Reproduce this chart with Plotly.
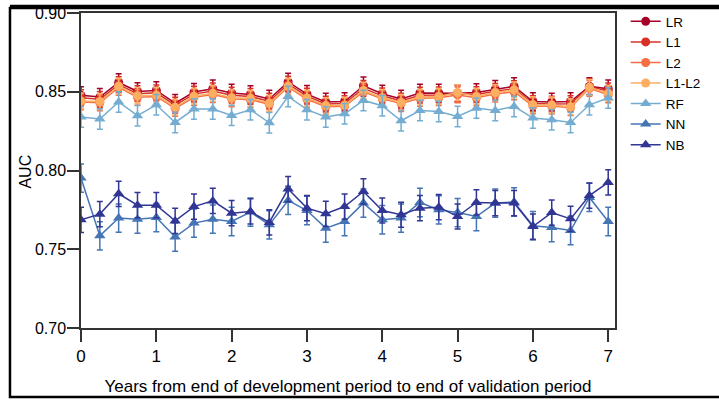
import plotly.graph_objects as go

years = [i * 0.25 for i in range(29)]

LR = [0.8477, 0.8466, 0.8559, 0.8502, 0.8508, 0.8428, 0.8498, 0.8519, 0.8492, 0.8483,
      0.8454, 0.8562, 0.8485, 0.8435, 0.8438, 0.8538, 0.8487, 0.8454, 0.8492, 0.8492,
      0.8490, 0.8496, 0.8517, 0.8534, 0.8438, 0.8435, 0.8438, 0.8534, 0.8519]
L1 = [0.8462, 0.8452, 0.8545, 0.8488, 0.8493, 0.8415, 0.8485, 0.8505, 0.8478, 0.8470,
      0.8440, 0.8548, 0.8472, 0.8422, 0.8425, 0.8522, 0.8474, 0.8441, 0.8478, 0.8480,
      0.8488, 0.8482, 0.8503, 0.8520, 0.8425, 0.8422, 0.8424, 0.8532, 0.8505]
L2 = [0.8435, 0.8430, 0.8528, 0.8465, 0.8470, 0.8395, 0.8465, 0.8482, 0.8455, 0.8450,
      0.8420, 0.8530, 0.8452, 0.8405, 0.8408, 0.8500, 0.8455, 0.8425, 0.8458, 0.8462,
      0.8480, 0.8462, 0.8485, 0.8500, 0.8410, 0.8408, 0.8400, 0.8522, 0.8480]
L1L2 = [0.8442, 0.8438, 0.8535, 0.8475, 0.8478, 0.8402, 0.8472, 0.8490, 0.8462, 0.8458,
        0.8428, 0.8536, 0.8460, 0.8412, 0.8415, 0.8508, 0.8462, 0.8432, 0.8466, 0.8470,
        0.8495, 0.8470, 0.8495, 0.8512, 0.8418, 0.8416, 0.8405, 0.8528, 0.8490]
RF = [0.8340, 0.8327, 0.8435, 0.8348, 0.8417, 0.8305, 0.8390, 0.8390, 0.8350, 0.8386,
      0.8303, 0.8470, 0.8386, 0.8340, 0.8360, 0.8445, 0.8411, 0.8316, 0.8381, 0.8375,
      0.8343, 0.8396, 0.8381, 0.8407, 0.8333, 0.8322, 0.8305, 0.8417, 0.8460]
NN = [0.7952, 0.7585, 0.7698, 0.7691, 0.7701, 0.7577, 0.7666, 0.7691, 0.7676, 0.7736,
      0.7655, 0.7810, 0.7746, 0.7634, 0.7676, 0.7793, 0.7687, 0.7698, 0.7797, 0.7750,
      0.7733, 0.7708, 0.7793, 0.7800, 0.7649, 0.7638, 0.7619, 0.7829, 0.7676]
NB = [0.7687, 0.7723, 0.7852, 0.7780, 0.7780, 0.7680, 0.7771, 0.7807, 0.7729, 0.7740,
      0.7670, 0.7882, 0.7761, 0.7725, 0.7771, 0.7867, 0.7746, 0.7719, 0.7761, 0.7767,
      0.7708, 0.7797, 0.7793, 0.7793, 0.7644, 0.7733, 0.7693, 0.7841, 0.7924]

series_names = ["LR", "L1", "L2", "L1-L2", "RF", "NN", "NB"]
series_values = [LR, L1, L2, L1L2, RF, NN, NB]
series_errors = [0.0055, 0.005, 0.005, 0.005, 0.0065, 0.009, 0.008]
series_colors = ["#a50026", "#d73027", "#f46d43", "#fdae61", "#74add1", "#4575b4", "#313695"]
series_symbols = ["circle", "circle", "circle", "circle", "triangle-up", "triangle-up", "triangle-up"]

y_ticks = [0.70, 0.75, 0.80, 0.85, 0.90]
x_ticks = [0, 1, 2, 3, 4, 5, 6, 7]

FONT = "Liberation Sans, Arial, sans-serif"

fig = go.Figure()
for name, vals, err, col, sym in zip(series_names, series_values, series_errors,
                                     series_colors, series_symbols):
    fig.add_trace(go.Scatter(
        x=years, y=vals, name=name, mode="lines+markers",
        line=dict(color=col, width=1.5),
        marker=dict(color=col, symbol=sym, size=9 if sym == "circle" else 10),
        error_y=dict(type="constant", value=err, color=col, thickness=1.5, width=3),
    ))

fig.update_layout(
    width=719, height=400,
    margin=dict(l=81, r=104, t=13, b=72, autoexpand=False),
    paper_bgcolor="white", plot_bgcolor="white",
    font=dict(family=FONT, color="black"),
    showlegend=True,
    legend=dict(x=1.02, y=1.022, xanchor="left", yanchor="top",
                font=dict(size=13.5, family=FONT), bgcolor="rgba(0,0,0,0)",
                borderwidth=0),
    xaxis=dict(range=[0, 7.09], tickvals=x_ticks, ticks="outside", ticklen=12,
               tickwidth=1.5, tickcolor="#333", showline=True, linecolor="#333",
               linewidth=1.5, mirror=True, showgrid=False, zeroline=False,
               automargin=False, tickfont=dict(size=17),
               title=dict(text="Years from end of development period to end of validation period",
                          font=dict(size=17), standoff=15)),
    yaxis=dict(range=[0.70, 0.90], tickvals=y_ticks, tickformat=".2f", ticks="outside",
               ticklen=12, tickwidth=1.5, tickcolor="#333", showline=True,
               linecolor="#333", linewidth=1.5, mirror=True, showgrid=False,
               zeroline=False, automargin=False, tickfont=dict(size=16),
               ticklabelstandoff=-2),
)

fig.add_annotation(text="AUC", xref="paper", yref="paper", x=-0.104, y=0.498,
                   textangle=-90, showarrow=False, font=dict(size=16, family=FONT),
                   xanchor="center", yanchor="middle")

# outer frame around the whole figure (top edge placed in pixels above the plot top)
fig.add_shape(type="rect", xref="paper", yref="paper",
              x0=-0.133, x1=1.215, y0=-0.219, y1=1.016,
              line=dict(color="black", width=2.5), fillcolor="rgba(0,0,0,0)",
              layer="above")
fig.add_shape(type="line", xref="paper", yref="paper", ysizemode="pixel", yanchor=1.0,
              x0=-0.133, x1=1.215, y0=7, y1=7,
              line=dict(color="black", width=2.5), layer="above")

fig.write_html("out.html", config={"displayModeBar": False},
               post_script="document.body.style.margin='0';document.body.style.overflow='hidden';")
